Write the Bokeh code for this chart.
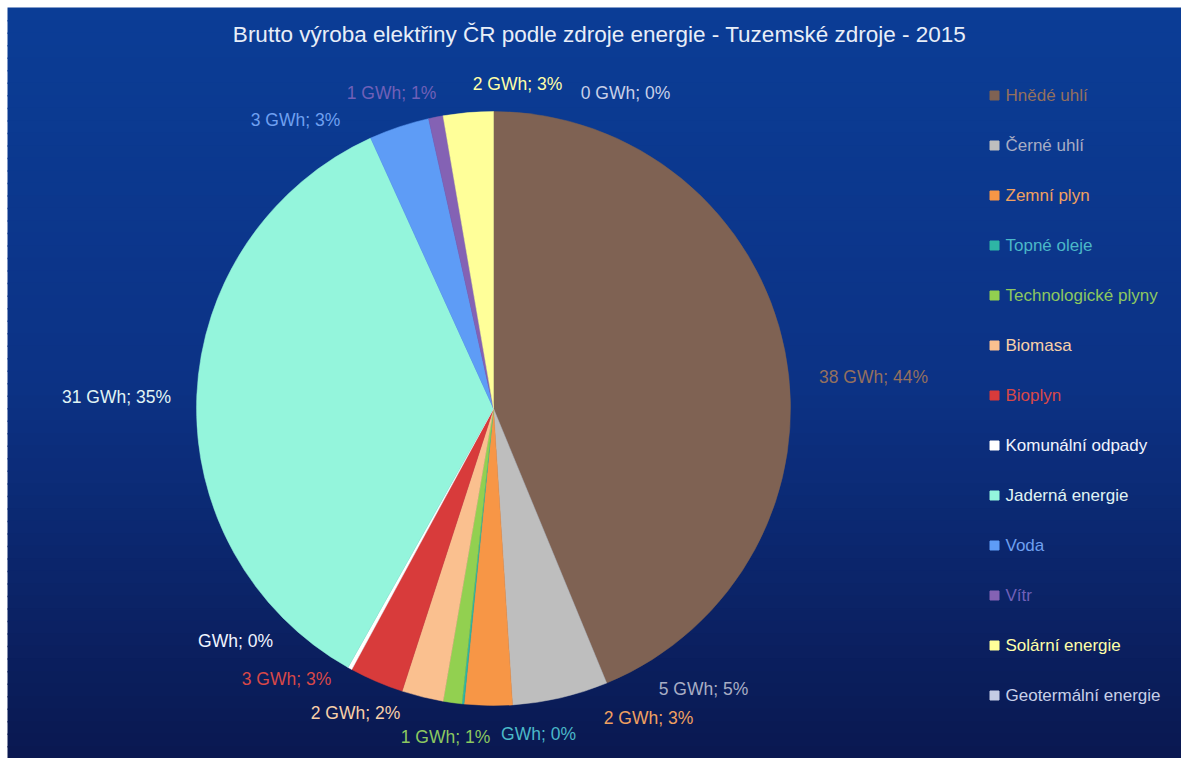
from bokeh.plotting import figure
from bokeh.models import Range1d
from bokeh.core.properties import value
from bokeh.embed import file_html
from bokeh.resources import INLINE
import math

# ---- data ----
title_text = "Brutto výroba elektřiny ČR podle zdroje energie - Tuzemské zdroje - 2015"
categories = ["Hnědé uhlí", "Černé uhlí", "Zemní plyn", "Topné oleje",
              "Technologické plyny", "Biomasa", "Bioplyn", "Komunální odpady",
              "Jaderná energie", "Voda", "Vítr", "Solární energie",
              "Geotermální energie"]
values_gwh = [38.7, 4.6, 2.3, 0.1, 0.9, 2.0, 2.6, 0.2, 31.0, 2.9, 0.7, 2.4, 0.0]
labels = ["38 GWh; 44%", "5 GWh; 5%", "2 GWh; 3%", "GWh; 0%", "1 GWh; 1%",
          "2 GWh; 2%", "3 GWh; 3%", "GWh; 0%", "31 GWh; 35%", "3 GWh; 3%",
          "1 GWh; 1%", "2 GWh; 3%", "0 GWh; 0%"]

# ---- styles / layout ----
colors = ["#7F6253", "#BEBEBE", "#F79646", "#2EB5A5", "#92D050", "#FAC08F",
          "#D83B3B", "#FFFFFF", "#94F5DC", "#5E9CF6", "#8462B4", "#FFFF99",
          "#C4CCE4"]
label_colors = ["#94705E", "#A8ADC4", "#F0A060", "#4BB8C8", "#8CC860", "#F8D0A8",
                "#D84848", "#F0F4FF", "#E0F4F4", "#6FA0F0", "#7060B8", "#FFFFA8",
                "#C8D0E8"]
# label anchor offsets (pixels, screen coords) from pie centre
label_offsets = [(380, -32), (210, 280), (155, 309), (45, 325), (-48, 328),
                 (-138, 304), (-207, 270), (-258, 232), (-377, -12),
                 (-198, -289), (-102, -316), (24, -325), (132, -316)]

W, H = 1181, 758
CX, CY, R = 493, 408, 297  # screen coords
FONT = value("Liberation Sans")


def sy(y):
    return H - y


p = figure(width=W, height=H, x_range=Range1d(0, W), y_range=Range1d(0, H),
           output_backend="svg", toolbar_location=None, min_border=0)
p.axis.visible = False
p.grid.visible = False
p.outline_line_color = None
p.background_fill_color = "white"
p.border_fill_color = "white"

# gradient background
top = (11, 61, 150)
mid = (12, 50, 133)
bot = (10, 24, 80)
n = 60
left_edge, top_edge = 7, 7
lefts, rights, tops, bottoms, cols = [], [], [], [], []
for i in range(n):
    y0 = top_edge + (H - top_edge) * i / n
    y1 = top_edge + (H - top_edge) * (i + 1) / n + 1.5
    t = (i + 0.5) / n
    if t < 0.5:
        a, b, u = top, mid, t / 0.5
    else:
        a, b, u = mid, bot, (t - 0.5) / 0.5
    c = tuple(int(round(a[k] + (b[k] - a[k]) * u)) for k in range(3))
    lefts.append(left_edge)
    rights.append(W)
    tops.append(sy(y0))
    bottoms.append(sy(min(y1, H)))
    cols.append("#%02x%02x%02x" % c)
p.quad(left=lefts, right=rights, top=tops, bottom=bottoms, fill_color=cols,
       line_color=None)

# pie
total = sum(values_gwh)
starts, ends, wcols = [], [], []
cum = 0.0
for v, c in zip(values_gwh, colors):
    a0 = cum / total * 2 * math.pi
    cum += v
    a1 = cum / total * 2 * math.pi
    if v <= 0:
        continue
    starts.append(math.pi / 2 - a0)
    ends.append(math.pi / 2 - a1)
    wcols.append(c)
p.wedge(x=CX, y=sy(CY), radius=R, start_angle=starts, end_angle=ends,
        direction="clock", fill_color=wcols, line_color=wcols, line_width=0.5)

# data labels
lx = [CX + dx for dx, dy in label_offsets]
ly = [sy(CY + dy) for dx, dy in label_offsets]
p.text(x=lx, y=ly, text=labels, text_color=label_colors,
       text_font=FONT, text_font_size="17.5px",
       text_align="center", text_baseline="middle")

# title
p.text(x=[599], y=[sy(34)], text=[title_text], text_color="#E8EEF8",
       text_font=FONT, text_font_size="22.5px",
       text_align="center", text_baseline="middle")

# legend
leg_y = [sy(95 + 50 * i) for i in range(len(categories))]
p.scatter(x=[994] * len(categories), y=leg_y, marker="square", size=9,
          fill_color=colors, line_color=colors)
p.text(x=[1005] * len(categories), y=leg_y, text=categories,
       text_color=label_colors, text_font=FONT,
       text_font_size="17px", text_align="left", text_baseline="middle")

open("out.html", "w").write(file_html(p, INLINE))
